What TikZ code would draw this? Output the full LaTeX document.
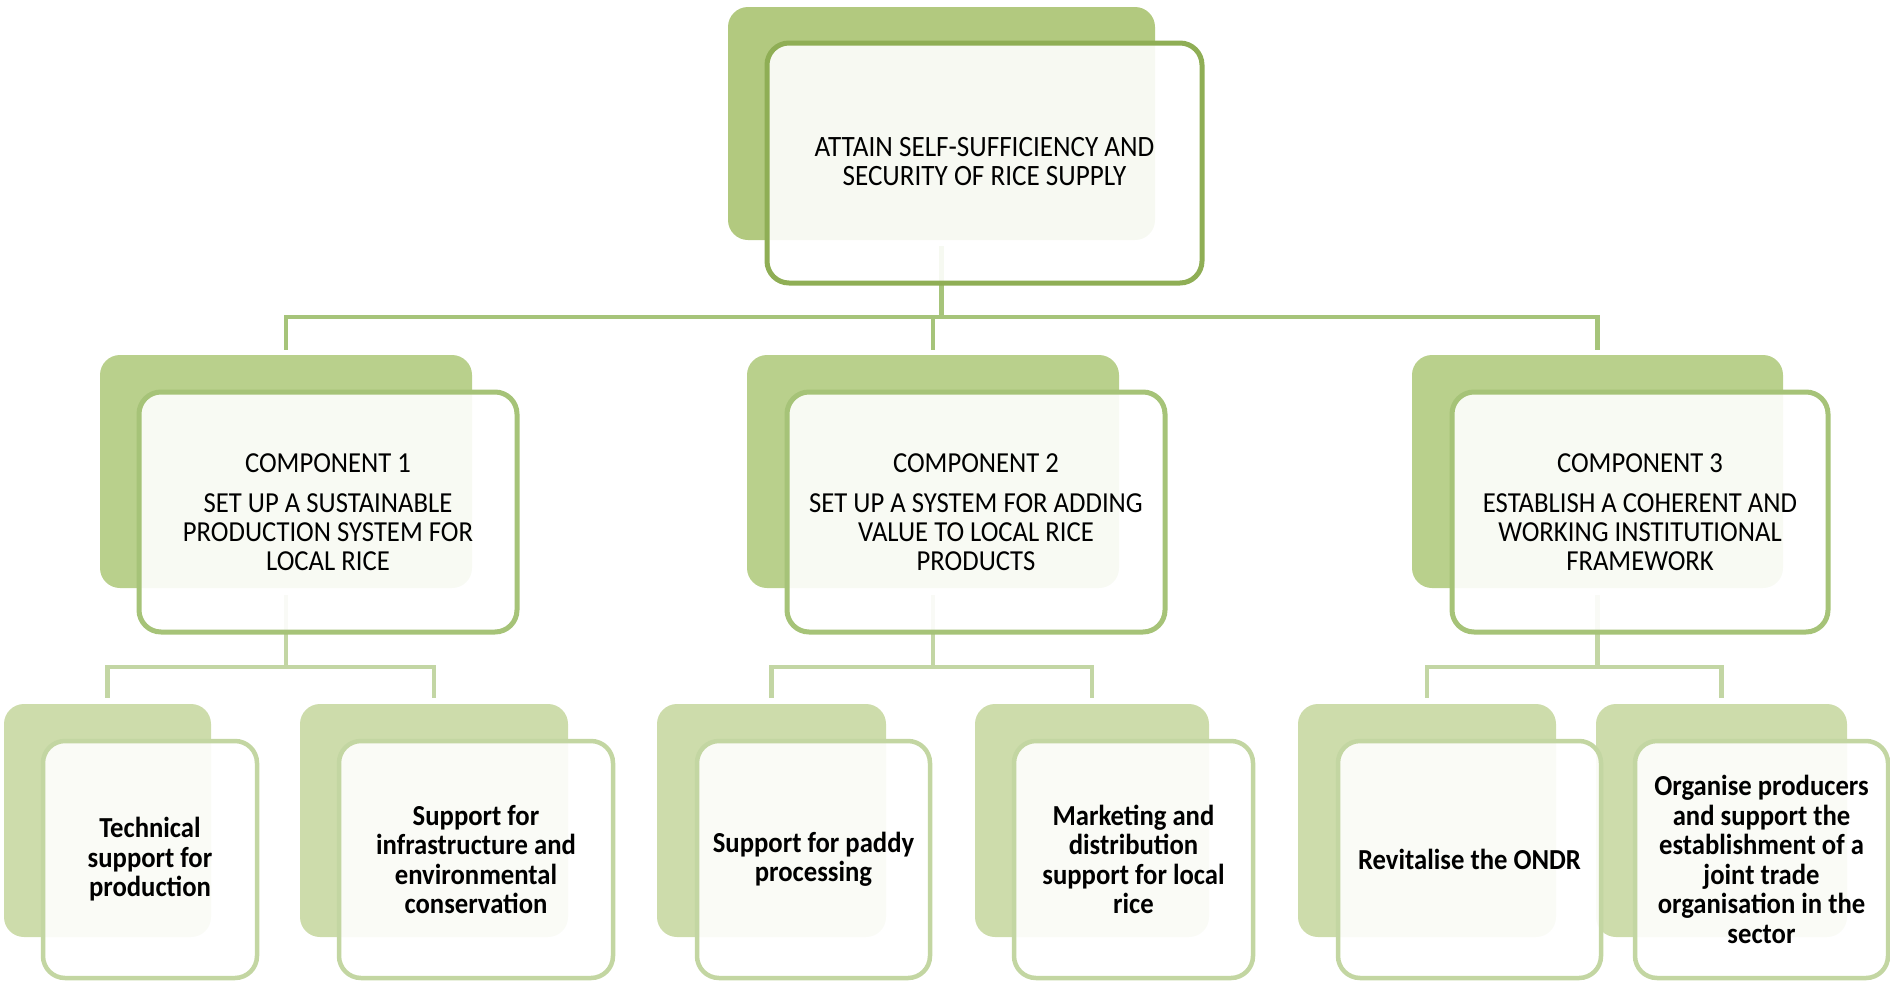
\documentclass[tikz,border=0pt]{standalone}
\usepackage{fontspec}
\setmainfont{Carlito}[FakeStretch=0.92]
\usetikzlibrary{calc}
\definecolor{topBack}{HTML}{B2C97F}
\definecolor{topLine}{HTML}{8FAE55}
\definecolor{compBack}{HTML}{B9D08C}
\definecolor{compLine}{HTML}{A6C378}
\definecolor{connA}{HTML}{A6C47A}
\definecolor{botBack}{HTML}{CDDCAB}
\definecolor{botLine}{HTML}{C3D6A2}
\definecolor{connB}{HTML}{C3D6A4}
\tikzset{
  backbox/.style={rectangle, rounded corners=20pt, inner sep=0pt, draw=none},
  frontbox/.style={rectangle, rounded corners=22pt, inner sep=0pt, fill=white,
    fill opacity=0.9, text opacity=1, line width=5pt, align=center, text=black},
  topback/.style={backbox, fill=topBack, minimum height=233pt},
  topfront/.style={frontbox, draw=topLine, minimum height=240pt},
  toptext/.style={align=center, text=black, font=\fontsize{29.5}{29}\selectfont},
  compback/.style={backbox, fill=compBack, minimum height=233pt},
  compfront/.style={frontbox, draw=compLine, minimum height=240pt, font=\fontsize{29}{29}\selectfont},
  botback/.style={backbox, fill=botBack, minimum height=233pt},
  botfront/.style={frontbox, draw=botLine, line width=4.5pt, minimum height=237pt, font=\fontsize{29}{29.5}\selectfont\bfseries},
  linkA/.style={draw=connA, line width=4.5pt},
  linkB/.style={draw=connB, line width=4.5pt},
}
\begin{document}
\begin{tikzpicture}[x=1pt, y=-1pt]
\useasboundingbox (0,0) rectangle (1890,980);
% back boxes
\node[topback, minimum width=427pt] (topB) at (941.5,123.5) {};
\node[compback, minimum width=372pt] (c1B) at (286,471.5) {};
\node[compback, minimum width=372pt] (c2B) at (933,471.5) {};
\node[compback, minimum width=371pt] (c3B) at (1597.5,471.5) {};
\node[botback, minimum width=207pt] (b11B) at (107.5,820.5) {};
\node[botback, minimum width=268pt] (b12B) at (434,820.5) {};
\node[botback, minimum width=229pt] (b21B) at (771.5,820.5) {};
\node[botback, minimum width=234pt] (b22B) at (1092,820.5) {};
\node[botback, minimum width=258pt] (b31B) at (1427,820.5) {};
\node[botback, minimum width=251pt] (b32B) at (1721.5,820.5) {};
% connectors, level 1
\draw[linkA] (topB.south) ++(0,6) -- ++(0,71) -| ([yshift=5pt]c1B.north);
\draw[linkA] (topB.south) ++(0,6) -- ++(0,71) -| ([yshift=5pt]c2B.north);
\draw[linkA] (topB.south) ++(0,6) -- ++(0,71) -| ([yshift=5pt]c3B.north);
% connectors, level 2
\draw[linkB] (c1B.south) ++(0,7) -- ++(0,72) -| ([yshift=6pt]b11B.north);
\draw[linkB] (c1B.south) ++(0,7) -- ++(0,72) -| ([yshift=6pt]b12B.north);
\draw[linkB] (c2B.south) ++(0,7) -- ++(0,72) -| ([yshift=6pt]b21B.north);
\draw[linkB] (c2B.south) ++(0,7) -- ++(0,72) -| ([yshift=6pt]b22B.north);
\draw[linkB] (c3B.south) ++(0,7) -- ++(0,72) -| ([yshift=6pt]b31B.north);
\draw[linkB] (c3B.south) ++(0,7) -- ++(0,72) -| ([yshift=6pt]b32B.north);
% front boxes
\node[topfront, minimum width=435pt] (topF) at (984.5,163) {};
\node[toptext] (topT) at ([yshift=1.5pt]topF.center)
  {ATTAIN SELF-SUFFICIENCY AND\\SECURITY OF RICE SUPPLY};
\node[compfront, minimum width=378pt] (c1F) at (328,512)
  {COMPONENT 1\\[11pt]SET UP A SUSTAINABLE\\PRODUCTION SYSTEM FOR\\LOCAL RICE};
\node[compfront, minimum width=378pt] (c2F) at (976,512)
  {COMPONENT 2\\[11pt]SET UP A SYSTEM FOR ADDING\\VALUE TO LOCAL RICE\\PRODUCTS};
\node[compfront, minimum width=376pt] (c3F) at (1640,512)
  {COMPONENT 3\\[11pt]ESTABLISH A COHERENT AND\\WORKING INSTITUTIONAL\\FRAMEWORK};
\node[botfront, minimum width=214pt] (b11F) at (150,859.5)
  {Technical\\support for\\production};
\node[botfront, minimum width=274pt] (b12F) at (476,859.5)
  {Support for\\infrastructure and\\environmental\\conservation};
\node[botfront, minimum width=233pt] (b21F) at (813.5,859.5)
  {Support for paddy\\processing};
\node[botfront, minimum width=239pt] (b22F) at (1133.5,859.5)
  {Marketing and\\distribution\\support for local\\rice};
\node[botfront, minimum width=263pt] (b31F) at (1469.5,859.5)
  {Revitalise the ONDR};
\node[botfront, minimum width=253pt] (b32F) at (1761.5,859.5)
  {Organise producers\\and support the\\establishment of a\\joint trade\\organisation in the\\sector};
\end{tikzpicture}
\end{document}
